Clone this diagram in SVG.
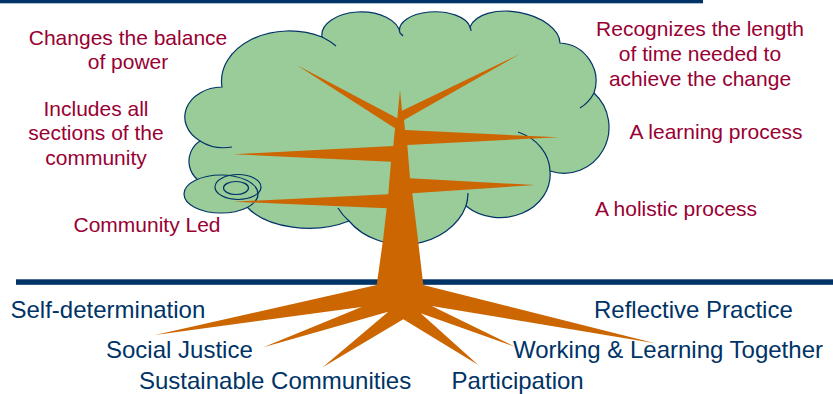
<svg xmlns="http://www.w3.org/2000/svg" width="833" height="394" viewBox="0 0 833 394">
<style>
.cl{fill:#99CC99;stroke:#003366;stroke-width:1.2}
.hk{fill:none;stroke:#003366;stroke-width:1.2}
.wood{fill:#CC6600}
.rd{font-family:"Liberation Sans",Arial,sans-serif;font-size:21px;fill:#990033;text-anchor:middle}
.bl{font-family:"Liberation Sans",Arial,sans-serif;font-size:24px;fill:#003366}
</style>
<rect x="0" y="0" width="703" height="3.3" fill="#003366"/>
<g id="cloud">
<path class="cl" d="M210,185 A24,24 0 0 1 200,141 A38,30 0 0 1 222,87 A68,50 0 0 1 322,37 A39,23 0 0 1 400,33 A35,18 0 0 1 470,27 A46,26 10 0 1 560,43 A38,38 0 0 1 594,93 A45,46 0 0 1 550,171 A50,43 0 0 1 466,206 A66,55 0 0 1 349,221 A70,40 0 0 1 247,207 Z"/>
<path class="hk" d="M200,141 A38,30 0 0 0 232,147"/>
<path class="hk" d="M322,37 A68,50 0 0 1 336,46"/>
<path class="hk" d="M400,33 A39,23 0 0 1 403,36"/>
<path class="hk" d="M470,27 A35,18 0 0 1 471,31"/>
<path class="hk" d="M594,93 A38,38 0 0 1 580,108"/>
<path class="hk" d="M550,171 A50,43 0 0 0 518,132"/>
<path class="hk" d="M466,206 A66,55 0 0 0 468,193"/>
<path class="hk" d="M349,221 A66,55 0 0 1 338,208"/>
<ellipse class="cl" cx="221" cy="194" rx="37" ry="19"/>
<ellipse class="hk" cx="238" cy="187" rx="23" ry="12.5"/>
<ellipse class="hk" cx="236" cy="188" rx="12.5" ry="6.5"/>
</g>
<rect id="ground" x="16" y="279.3" width="817" height="5.5" fill="#003366"/>
<g id="tree">
<path class="wood" d="M376.7,285 L383,240 L386.7,208.3 L233.3,201.7 L388.3,194.3 L391,161.7 L233.3,154.3 L393.3,146 L395,128.3 L296.7,65 L397.3,118.3 L400,90 L402,110.7 L520,54 L404,120 L405,130 L558.3,137.3 L407.3,145 L410,178.3 L535,185 L412.3,193.3 L418,240 L423.3,285 L655,343.3 L431.7,306 L515,346.7 L420.7,313.3 L478.3,365 L403.3,319.3 L322.7,367.3 L388.3,311.7 L263.3,347.3 L361.5,307 L155,335 Z"/>
</g>
<g id="values">
<text class="rd" x="128" y="44.5">Changes the balance</text>
<text class="rd" x="128" y="68.5">of power</text>
<text class="rd" x="96" y="116">Includes all</text>
<text class="rd" x="96" y="140">sections of the</text>
<text class="rd" x="96" y="164.5">community</text>
<text class="rd" x="147" y="231.5">Community Led</text>
<text class="rd" x="700" y="36">Recognizes the length</text>
<text class="rd" x="700" y="61">of time needed to</text>
<text class="rd" x="700" y="86">achieve the change</text>
<text class="rd" x="716" y="139.3">A learning process</text>
<text class="rd" x="676" y="216">A holistic process</text>
</g>
<g id="roots">
<text class="bl" x="10.5" y="318">Self-determination</text>
<text class="bl" x="106" y="357.5">Social Justice</text>
<text class="bl" x="139" y="389">Sustainable Communities</text>
<text class="bl" x="451.6" y="389">Participation</text>
<text class="bl" x="594" y="318">Reflective Practice</text>
<text class="bl" x="513" y="358">Working &amp; Learning Together</text>
</g>
</svg>
